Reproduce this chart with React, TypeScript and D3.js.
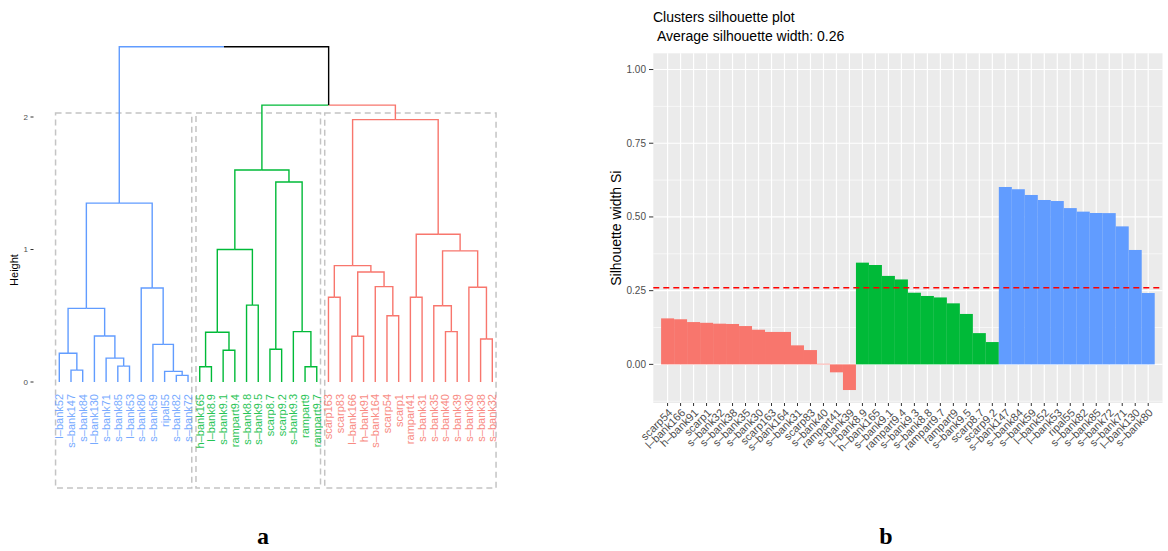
import React from 'react';
import * as d3 from 'd3';

const W = 1168;
const H = 551;

// ---------- Dendrogram data (panel a) ----------
const leafLabels = [
  'l–bank52', 's–bank147', 's–bank84', 'l–bank130', 's–bank71', 's–bank85', 'l–bank53', 's–bank80', 's–bank59', 'ripal55', 's–bank82', 's–bank72',
  'h–bank165', 'l–bank8.9', 's–bank9.1', 'rampart9.4', 's–bank8.8', 's–bank9.5', 'scarp8.7', 'scarp9.2', 's–bank9.3', 'rampart9', 'rampart9.7',
  'scarp163', 'scarp83', 'l–bank166', 'h–bank91', 's–bank164', 'scarp54', 'scarp1', 'rampart41', 's–bank31', 's–bank35', 's–bank40', 's–bank39', 's–bank30', 's–bank38', 's–bank32',
];
const leafCluster = [
  0, 0, 0, 0, 0, 0, 0, 0, 0, 0, 0, 0,
  1, 1, 1, 1, 1, 1, 1, 1, 1, 1, 1,
  2, 2, 2, 2, 2, 2, 2, 2, 2, 2, 2, 2, 2, 2, 2,
];
// hclust-style merges: negative = leaf (1-based), positive = earlier merge (1-based); third = height
const merges: [number, number, number][] = [
  [-2, -3, 0.09], [-1, 1, 0.217], [-6, -7, 0.12], [-5, 3, 0.18], [-4, 4, 0.347], [2, 5, 0.556],
  [-11, -12, 0.05], [-10, 7, 0.08], [-9, 8, 0.284], [-8, 9, 0.71], [6, 10, 1.35],
  [-13, -14, 0.115], [-15, -16, 0.24], [12, 13, 0.375], [-17, -18, 0.58], [14, 15, 1.0],
  [-19, -20, 0.247], [-22, -23, 0.115], [-21, 18, 0.38], [17, 19, 1.51], [16, 20, 1.6],
  [-24, -25, 0.64], [-26, -27, 0.345], [-29, -30, 0.5], [-28, 24, 0.72], [23, 25, 0.83], [22, 26, 0.878],
  [-31, -32, 0.64], [-34, -35, 0.38], [-33, 29, 0.576], [-37, -38, 0.325], [-36, 31, 0.715], [30, 32, 0.99],
  [28, 33, 1.115], [27, 34, 1.98],
  [21, 35, 2.09], [11, 36, 2.53],
];
const dendTicks = [0, 1, 2];
const rectTop = 2.03;
const rectBottom = -0.8;

// ---------- Silhouette data (panel b) ----------
const silLabels = [
  'scarp54', 'l–bank166', 'h–bank91', 'scarp1', 's–bank32', 's–bank38', 's–bank35', 's–bank30', 'scarp163', 's–bank164', 's–bank31', 'scarp83', 's–bank40', 'rampart41', 's–bank39',
  'l–bank8.9', 'h–bank165', 's–bank9.1', 'rampart9.4', 's–bank9.3', 's–bank8.8', 'rampart9.7', 'rampart9', 's–bank9.5', 'scarp8.7', 'scarp9.2',
  's–bank147', 's–bank84', 's–bank59', 'l–bank52', 'l–bank53', 'ripal55', 's–bank82', 's–bank85', 's–bank72', 's–bank71', 'l–bank130', 's–bank80',
];
const silValues = [
  0.156, 0.153, 0.1435, 0.141, 0.138, 0.137, 0.130, 0.1175, 0.11, 0.11, 0.0645, 0.0485, 0.002, -0.027, -0.087,
  0.345, 0.337, 0.300, 0.288, 0.243, 0.232, 0.227, 0.207, 0.171, 0.106, 0.0757,
  0.6016, 0.594, 0.5745, 0.5575, 0.554, 0.530, 0.518, 0.5134, 0.513, 0.468, 0.388, 0.242,
];
const silCluster = [
  2, 2, 2, 2, 2, 2, 2, 2, 2, 2, 2, 2, 2, 2, 2,
  1, 1, 1, 1, 1, 1, 1, 1, 1, 1, 1,
  0, 0, 0, 0, 0, 0, 0, 0, 0, 0, 0, 0,
];
const silTicks = [0, 0.25, 0.5, 0.75, 1.0];
const silMinorTicks = [-0.125, 0.125, 0.375, 0.625, 0.875];
const avgSilWidth = 0.26;

const clusterColors = ['#619CFF', '#00BA38', '#F8766D'];
const FONT = "'Liberation Sans', Arial, Helvetica, sans-serif";

type Node = { x: number; h: number; color: string };

function Dendrogram() {
  const xLeaf = d3.scalePoint<number>().domain(d3.range(leafLabels.length)).range([59.3, 492.3]);
  const y = d3.scaleLinear().domain([0, 2]).range([382, 117]);

  const leafNodes: Node[] = leafLabels.map((_, i) => ({ x: xLeaf(i)!, h: 0, color: clusterColors[leafCluster[i]] }));
  const mergeNodes: Node[] = [];
  const get = (k: number): Node => (k < 0 ? leafNodes[-k - 1] : mergeNodes[k - 1]);
  const segs: { d: string; color: string }[] = [];
  merges.forEach(([a, b, h]) => {
    const na = get(a);
    const nb = get(b);
    const px = (na.x + nb.x) / 2;
    const color = na.color === nb.color ? na.color : '#000000';
    [na, nb].forEach((c) => {
      segs.push({ d: `M${c.x},${y(c.h)}V${y(h)}H${px}`, color: c.color });
    });
    mergeNodes.push({ x: px, h, color });
  });

  const step = xLeaf.step();
  const clusters = [0, 1, 2].map((c) => {
    const idx = leafCluster.map((v, i) => (v === c ? i : -1)).filter((i) => i >= 0);
    return { c, x0: xLeaf(idx[0])! - 0.32 * step, x1: xLeaf(idx[idx.length - 1])! + 0.32 * step };
  });

  return (
    <g>
      {clusters.map((r) => (
        <rect key={r.c} x={r.x0} y={y(rectTop)} width={r.x1 - r.x0} height={y(rectBottom) - y(rectTop)}
          fill="none" stroke="#c4c4c4" strokeWidth={1.5} strokeDasharray="6,4" />
      ))}
      {segs.map((s, i) => (
        <path key={i} d={s.d} fill="none" stroke={s.color} strokeWidth={1.4} />
      ))}
      {leafLabels.map((l, i) => (
        <text key={l} transform={`translate(${xLeaf(i)! + 4},${394}) rotate(-90)`} textAnchor="end"
          fontSize={11} fontFamily={FONT} fill={clusterColors[leafCluster[i]]} opacity={0.85}>{l}</text>
      ))}
      {dendTicks.map((t) => (
        <g key={t}>
          <line x1={30.5} x2={33.5} y1={y(t)} y2={y(t)} stroke="#333" strokeWidth={1} />
          <text x={28} y={y(t)} dy="0.35em" textAnchor="end" fontSize={8} fontFamily={FONT} fill="#4d4d4d">{t}</text>
        </g>
      ))}
      <text transform="translate(18,270) rotate(-90)" textAnchor="middle" fontSize={11} fontFamily={FONT} fill="#000">Height</text>
    </g>
  );
}

function Silhouette() {
  const left = 653.3;
  const right = 1162.5;
  const top = 53.3;
  const bottom = 403;
  const x = d3.scaleBand<number>().domain(d3.range(silLabels.length)).range([left, right]).paddingInner(0).paddingOuter(0.6);
  const y = d3.scaleLinear().domain([-0.131, 1.055]).range([bottom, top]);
  const bw = x.bandwidth();

  return (
    <g>
      <rect x={left} y={top} width={right - left} height={bottom - top} fill="#EBEBEB" />
      {silMinorTicks.map((t) => (
        <line key={'m' + t} x1={left} x2={right} y1={y(t)} y2={y(t)} stroke="#fff" strokeWidth={0.6} />
      ))}
      {silTicks.map((t) => (
        <line key={'M' + t} x1={left} x2={right} y1={y(t)} y2={y(t)} stroke="#fff" strokeWidth={1.2} />
      ))}
      {silLabels.map((_, i) => (
        <line key={'v' + i} x1={x(i)! + bw / 2} x2={x(i)! + bw / 2} y1={top} y2={bottom} stroke="#fff" strokeWidth={1.2} />
      ))}
      {silValues.map((v, i) => (
        <rect key={'b' + i} x={x(i)!} width={bw} y={y(Math.max(0, v))} height={Math.abs(y(v) - y(0))}
          fill={clusterColors[silCluster[i]]} />
      ))}
      <line x1={left} x2={right} y1={y(avgSilWidth)} y2={y(avgSilWidth)} stroke="#FF0000" strokeWidth={1.6} strokeDasharray="6,4" />
      {silTicks.map((t) => (
        <g key={'t' + t}>
          <line x1={649} x2={left} y1={y(t)} y2={y(t)} stroke="#333" strokeWidth={1} />
          <text x={646} y={y(t)} dy="0.35em" textAnchor="end" fontSize={10} fontFamily={FONT} fill="#4d4d4d">{t.toFixed(2)}</text>
        </g>
      ))}
      {silLabels.map((l, i) => (
        <g key={'x' + i}>
          <line x1={x(i)! + bw / 2} x2={x(i)! + bw / 2} y1={bottom} y2={bottom + 3} stroke="#333" strokeWidth={1} />
          <text transform={`translate(${x(i)! + bw / 2},${bottom + 5}) rotate(-45)`} textAnchor="end" dy="0.7em"
            fontSize={11} fontFamily={FONT} fill="#4d4d4d">{l}</text>
        </g>
      ))}
      <text transform={`translate(621,${(top + bottom) / 2}) rotate(-90)`} textAnchor="middle" fontSize={14} fontFamily={FONT} fill="#000">Silhouette width Si</text>
      <text x={653} y={22} fontSize={14} fontFamily={FONT} fill="#000">Clusters silhouette plot</text>
      <text x={657} y={41} fontSize={14} fontFamily={FONT} fill="#000">Average silhouette width: {avgSilWidth.toFixed(2)}</text>
    </g>
  );
}

export default function App() {
  return (
    <svg width={W} height={H} style={{ position: 'absolute', left: 0, top: 0, background: '#fff' }}>
      <Dendrogram />
      <Silhouette />
      <text x={263} y={544} textAnchor="middle" fontSize={24} fontWeight="bold" fontFamily="'Liberation Serif', 'Times New Roman', serif">a</text>
      <text x={886} y={544} textAnchor="middle" fontSize={24} fontWeight="bold" fontFamily="'Liberation Serif', 'Times New Roman', serif">b</text>
    </svg>
  );
}
